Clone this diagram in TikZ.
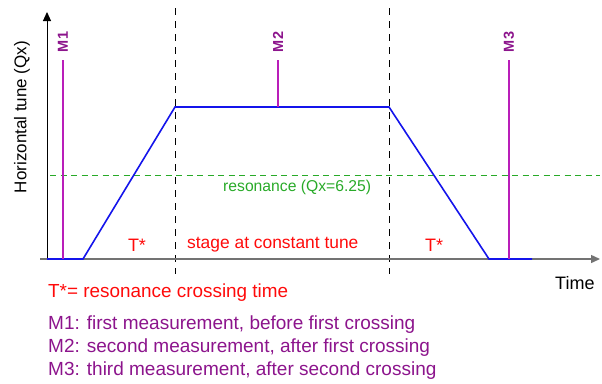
\documentclass[tikz,border=0pt]{standalone}
\usepackage{fontspec}
\setmainfont{Liberation Sans}
\usetikzlibrary{arrows.meta}
\definecolor{curveblue}{RGB}{20,20,235}
\definecolor{mline}{RGB}{185,30,185}
\definecolor{mtext}{RGB}{140,20,140}
\definecolor{resgreen}{RGB}{40,170,40}
\definecolor{axgray}{RGB}{115,115,115}
\definecolor{tred}{RGB}{255,10,10}
\tikzset{
  axisline/.style={line width=1.4pt,-{Triangle[length=9pt,width=8pt]}},
  phaseline/.style={black,line width=0.9pt,dash pattern=on 7pt off 6pt},
  resline/.style={resgreen,line width=0.9pt,dash pattern=on 6pt off 4.5pt},
  tuneline/.style={curveblue,line width=1.6pt},
  measline/.style={mline,line width=1.6pt},
  mlabel/.style={mtext,font=\fontsize{14.5pt}{15pt}\selectfont\bfseries,rotate=90,inner sep=0pt},
  legend/.style={anchor=west,inner sep=0pt,font=\fontsize{19pt}{21pt}\selectfont},
}
\begin{document}
\begin{tikzpicture}[x=1pt,y=-1pt]
\useasboundingbox (0,0) rectangle (602,383);
% phase boundaries
\coordinate (d1t) at (175,8); \coordinate (d1b) at (175,274);
\coordinate (d2t) at (389,8); \coordinate (d2b) at (389,274);
\draw[phaseline] (d1t) -- (d1b);
\draw[phaseline] (d2t) -- (d2b);
% resonance line
\coordinate (rl) at (50,175); \coordinate (rr) at (600,175);
\draw[resline] (rl) -- (rr);
% axes
\coordinate (o) at (47,259);
\coordinate (xs) at (40,259); \coordinate (xe) at (600,259);
\coordinate (ye) at (47,12);
\draw[axisline,axgray] (xs) -- (xe);
\draw[axisline,black,line width=1pt] (o) -- (ye);
% tune curve
\coordinate (p1) at (83,259);
\coordinate (p2) at (175,107);
\coordinate (p3) at (389,107);
\coordinate (p4) at (489,259);
\coordinate (p5) at (532,259);
\draw[tuneline,line join=miter] (o) -- (p1) -- (p2) -- (p3) -- (p4) -- (p5);
% measurements
\coordinate (m1t) at (63,60); \coordinate (m1b) at (63,259);
\coordinate (m2t) at (278,60); \coordinate (m2b) at (278,107);
\coordinate (m3t) at (509,60); \coordinate (m3b) at (509,259);
\draw[measline] (m1t) -- (m1b);
\draw[measline] (m2t) -- (m2b);
\draw[measline] (m3t) -- (m3b);
\node[mlabel] (M1) at (63,42) {M1};
\node[mlabel] (M2) at (278,42) {M2};
\node[mlabel] (M3) at (509,42) {M3};
% labels
\node[rotate=90,inner sep=0pt,font=\fontsize{17pt}{18pt}\selectfont] (ylab) at (22,117) {Horizontal tune (Qx)};
\node[inner sep=0pt,font=\fontsize{18pt}{19pt}\selectfont,anchor=west] (xlab) at (555,283) {Time};
\node[inner sep=0pt,resgreen,font=\fontsize{15.7pt}{17pt}\selectfont,anchor=west] (res) at (223,187) {resonance (Qx=6.25)};
\node[inner sep=0pt,tred,font=\fontsize{17.4pt}{18pt}\selectfont,anchor=west] (stage) at (187,245) {stage at constant tune};
\node[inner sep=0pt,tred,font=\fontsize{18pt}{19pt}\selectfont] (T1) at (137,245) {T*};
\node[inner sep=0pt,tred,font=\fontsize{18pt}{19pt}\selectfont] (T2) at (434,245) {T*};
% legend
\node[legend,tred,font=\fontsize{18.9pt}{20pt}\selectfont] (L0) at (48,293) {T*= resonance crossing time};
\node[legend,mtext] (L1) at (48,325) {M1: first measurement, before first crossing};
\node[legend,mtext] (L2) at (48,348) {M2: second measurement, after first crossing};
\node[legend,mtext] (L3) at (48,371) {M3: third measurement, after second crossing};
\end{tikzpicture}
\end{document}
